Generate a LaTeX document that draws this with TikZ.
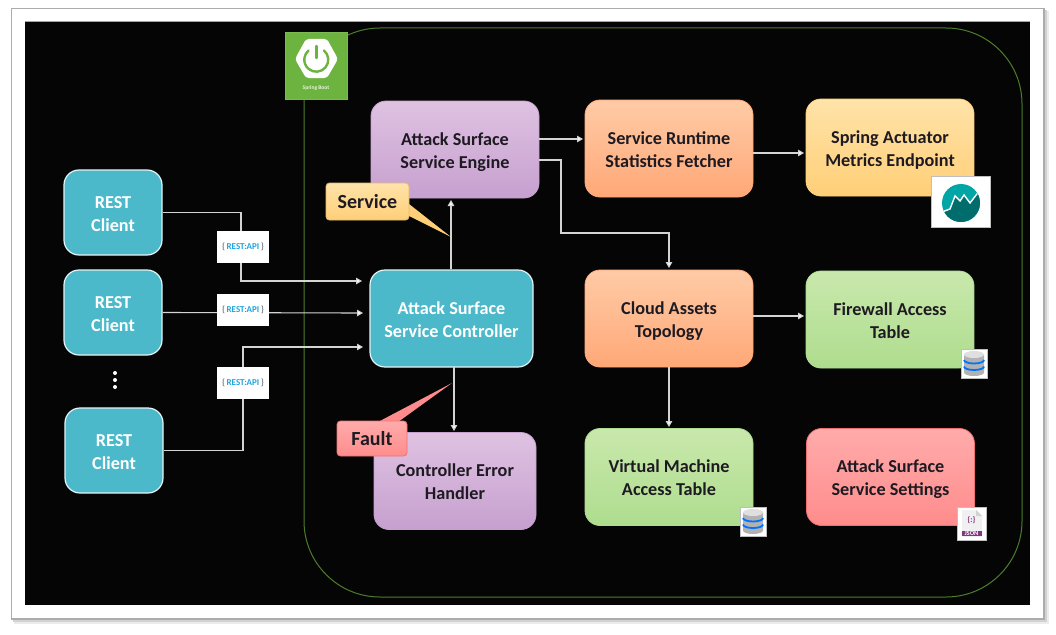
\documentclass[tikz,border=0pt]{standalone}
\usepackage{fontspec}
\setmainfont{Carlito}
\usetikzlibrary{arrows.meta,calc}
\definecolor{ink}{HTML}{1E1A22}
\definecolor{tealb}{HTML}{4BB9C9}
\definecolor{line}{HTML}{D4D4D4}
\newcommand{\twol}[2]{\rule{0pt}{21pt}#1\\\strut #2}
\tikzset{
  x=1pt,y=-1pt,
  box/.style={rounded corners=15pt,inner sep=0pt,minimum width=#1,minimum height=97pt,align=center,
    font=\fontsize{18.2}{23}\selectfont\bfseries,text=ink,line width=.8pt},
  clientbox/.style={box=98pt,minimum height=85pt,fill=tealb,draw=white!85!tealb,line width=1.2pt,text=white},
  ctrlbox/.style={box=163pt,fill=tealb,draw=white!85!tealb,line width=1.2pt,text=white},
  purplebox/.style={box=#1,top color=ddp,bottom color=cdp,draw=cdp},
  orangebox/.style={box=168pt,top color=FFCBA6,bottom color=FFA877,draw=FFA877},
  yellowbox/.style={box=168pt,top color=FFE3A8,bottom color=FFCF78,draw=FFCF78},
  greenbox/.style={box=168pt,top color=C9E8AC,bottom color=AEDD8E,draw=AEDD8E},
  redbox/.style={box=168pt,top color=FFABAB,bottom color=FF8C8C,draw=F07070},
  link/.style={draw=line,line width=1.1pt},
  arrow/.style={link,-{Triangle[length=6pt,width=6.5pt,fill=white]}},
  apibox/.style={fill=white,inner sep=0pt,minimum width=52pt,minimum height=32pt,font=\fontsize{9}{10}\selectfont\bfseries},
  callout/.style={rounded corners=3.5pt,inner sep=0pt,font=\fontsize{20}{24}\selectfont\bfseries,text=ink,line width=.8pt},
  icon/.style={fill=white,draw=gray!50,line width=.4pt},
  pics/dbicon/.style={code={
    \fill[white] (-13,-14.5) rectangle (13,14.5);
    \draw[gray!50,line width=.4pt] (-13,-14.5) rectangle (13,14.5);
    \fill[gray!60] (-10,-9) -- (-10,9) arc[start angle=180,end angle=0,x radius=10,y radius=3.5] -- (10,-9) -- cycle;
    \fill[gray!25] (0,-9) ellipse[x radius=10,y radius=3.5];
    \draw[blue!55!cyan,line width=1.8pt] (-10,-3.5) arc[start angle=180,end angle=0,x radius=10,y radius=3.5];
    \draw[blue!55!cyan,line width=1.8pt] (-10,3) arc[start angle=180,end angle=0,x radius=10,y radius=3.5];
  }}
}
\definecolor{ddp}{HTML}{DFC2E2}
\definecolor{cdp}{HTML}{C6A0CF}
\definecolor{FFCBA6}{HTML}{FFCBA6}
\definecolor{FFA877}{HTML}{FFA877}
\definecolor{FFE3A8}{HTML}{FFE3A8}
\definecolor{FFCF78}{HTML}{FFCF78}
\definecolor{C9E8AC}{HTML}{C9E8AC}
\definecolor{AEDD8E}{HTML}{AEDD8E}
\definecolor{FFABAB}{HTML}{FFABAB}
\definecolor{FF8C8C}{HTML}{FF8C8C}
\definecolor{F07070}{HTML}{F07070}
\definecolor{springg}{HTML}{6DB33F}
\definecolor{apiblue}{HTML}{1FA5E0}
\begin{document}
\begin{tikzpicture}
\useasboundingbox (0,0) rectangle (1056,634);
\fill[white] (0,0) rectangle (1056,634);
% frame and shadow
\fill[gray!15] (14,11) rectangle (1049,624);
\fill[gray!35] (13,10) rectangle (1047,622);
\fill[gray!65] (11,8) rectangle (1045,620);
\fill[white] (12,9) rectangle (1043,618);
\fill[gray!70] (25,21) rectangle (1030,605);
\fill[black!98] (25,22) rectangle (1030,605);
% boot boundary
\draw[draw=springg!70!black,line width=1pt,rounded corners=76pt] (304,28) rectangle (1022,597);
% spring logo
\node[fill=springg,draw=springg!90!white,inner sep=0pt,minimum width=62pt,minimum height=67pt] (boot) at (316,65.5) {};
\fill[white,rounded corners=3pt] (295,59) -- (306,39) -- (327,39) -- (338,59) -- (327,78) -- (306,78) -- cycle;
\draw[springg,line width=2.4pt,line cap=round] (324,50.5) arc[start angle=-50,end angle=230,radius=12];
\draw[springg,line width=2.4pt,line cap=round] (316.5,46) -- (316.5,58);
\node[font=\fontsize{5.5}{6}\selectfont\bfseries,text=white!85!springg,inner sep=0pt] (bootlabel) at (316,88) {Spring Boot};
% boxes
\node[clientbox] (r1) at (113,212.5) {\twol{REST}{Client}};
\node[clientbox] (r2) at (113,312.5) {\twol{REST}{Client}};
\node[clientbox] (r3) at (114,450.5) {\twol{REST}{Client}};
\node[ctrlbox] (ctrl) at (451.5,318.5) {\twol{Attack Surface}{Service Controller}};
\node[purplebox=168pt] (engine) at (455,149.5) {\twol{Attack Surface}{Service Engine}};
\node[purplebox=162pt] (err) at (455,481) {\twol{Controller Error}{Handler}};
\node[orangebox] (runtime) at (669,148.5) {\twol{Service Runtime}{Statistics Fetcher}};
\node[yellowbox] (actuator) at (890,147.5) {\twol{Spring Actuator}{Metrics Endpoint}};
\node[orangebox] (cloud) at (669,318.5) {\twol{Cloud Assets}{Topology}};
\node[greenbox] (fw) at (890,319.5) {\twol{Firewall Access}{Table}};
\node[greenbox] (vm) at (669,477) {\twol{Virtual Machine}{Access Table}};
\node[redbox] (settings) at (890.5,477) {\twol{Attack Surface}{Service Settings}};
% dots
\foreach \y in {373,380,387} \fill[white] (115,\y) circle[radius=2];
% free ends
\coordinate (c1) at (362,281);
\coordinate (c2) at (363,313);
\coordinate (c3) at (363,347);
\coordinate (e1) at (539,139);
\coordinate (e2) at (539,160);
\coordinate (up) at (451,200);
\coordinate (dn) at (454,431);
\coordinate (dn0) at (454,367);
\coordinate (a1) at (753,153);
\coordinate (a2) at (804,153);
\coordinate (f1) at (753,316);
\coordinate (f2) at (804,316);
\coordinate (rt) at (583,139);
\coordinate (cl) at (669,268);
\coordinate (v1) at (669,367);
\coordinate (v2) at (669,427);
% connectors
\draw[arrow] (r1.east) -- (241,212.5) -- (241,281) -- (c1);
\draw[arrow] (r2.east) -- (c2);
\draw[arrow] (r3.east) -- (243,450.5) -- (243,347) -- (c3);
\draw[arrow] (ctrl.north -| up) -- (up);
\draw[arrow] (dn0) -- (dn);
\draw[arrow] (e1) -- (rt);
\draw[arrow] (e2) -- (561,160) -- (561,233) -- (669,233) -- (cl);
\draw[arrow] (a1) -- (a2);
\draw[arrow] (f1) -- (f2);
\draw[arrow] (v1) -- (v2);
% API labels
\foreach \n/\y in {api1/247,api2/310,api3/383}
  \node[apibox] (\n) at (243,\y) {\textcolor{gray}{\{}\,\textcolor{apiblue}{REST:API}\,\textcolor{gray}{\}}};
% callouts
\fill[FFCF78] (409,204) -- (451,237) -- (409,216) -- cycle;
\node[callout,draw=FFCF78!90!black,top color=FFE3A8,bottom color=FFCF78,minimum width=83pt,minimum height=37pt] (svc) at (367.5,201.5) {Service};
\fill[FF8C8C] (378,422) -- (452,383) -- (398,422) -- cycle;
\node[callout,draw=F07070,top color=FFABAB,bottom color=FF8C8C,minimum width=70pt,minimum height=35pt] (fault) at (372,438.5) {Fault};
% metrics icon
\node[icon,minimum width=59pt,minimum height=51pt,inner sep=0pt] (metrics) at (960.5,201.5) {};
\begin{scope}
\clip (961,203) circle[radius=19];
\fill[teal!70!cyan] (942,184) rectangle (980,222);
\fill[teal!85!black] (942,212) -- (950,209) -- (955,196) -- (960,201) -- (964,195) -- (970,203) -- (980,190) -- (980,222) -- (942,222) -- cycle;
\draw[white,line width=1.4pt] (942,212) -- (950,209) -- (955,196) -- (960,201) -- (964,195) -- (970,203) -- (980,190);
\end{scope}
% database icons
\pic at (974,363.5) {dbicon};
\pic at (753,521.5) {dbicon};
% json icon
\node[icon,minimum width=29pt,minimum height=33pt,inner sep=0pt] (json) at (971.5,523.5) {};
\fill[gray!12] (962,510) -- (976,510) -- (982,516) -- (982,537) -- (962,537) -- cycle;
\fill[gray!35] (976,510) -- (982,516) -- (976,516) -- cycle;
\node[font=\fontsize{8}{9}\selectfont\bfseries,text=violet!60!gray,inner sep=0pt] (jsonb) at (971.5,520.5) {\{:\}};
\node[fill=violet!55!gray,text=white,font=\fontsize{6.5}{7}\selectfont\bfseries,inner sep=.6pt,minimum width=20pt] (jsont) at (971.5,533.5) {JSON};
\end{tikzpicture}
\end{document}
